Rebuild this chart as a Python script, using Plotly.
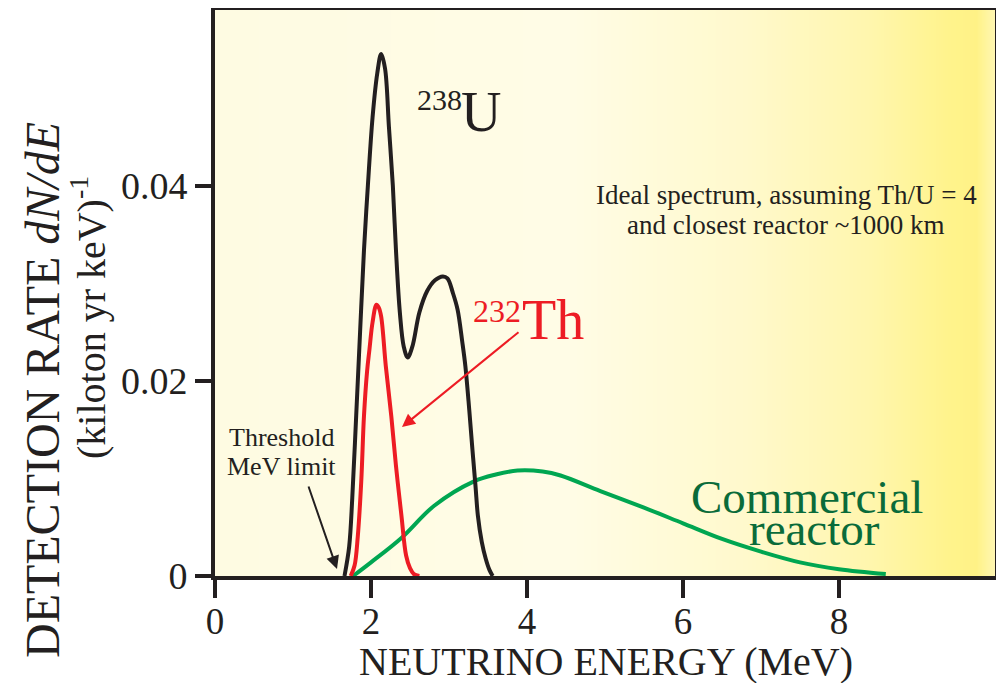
import plotly.graph_objects as go

# ---- data ----
u_energy = [1.66, 1.72, 1.76, 1.81, 1.86, 1.91, 1.96, 2.02, 2.08, 2.13, 2.18, 2.23, 2.28, 2.32,
            2.37, 2.42, 2.47, 2.53, 2.62, 2.72, 2.82, 2.92, 2.98, 3.05, 3.11, 3.17, 3.21, 3.26,
            3.30, 3.34, 3.37, 3.42, 3.47, 3.52, 3.56]
u_rate = [0.0, 0.003, 0.008, 0.0164, 0.025, 0.0334, 0.040, 0.047, 0.0515, 0.0535, 0.052, 0.046,
          0.040, 0.0334, 0.027, 0.0235, 0.0224, 0.0235, 0.027, 0.0292, 0.0303, 0.0307, 0.0305,
          0.029, 0.0273, 0.024, 0.0215, 0.017, 0.013, 0.0092, 0.0062, 0.0035, 0.0018, 0.0006, 0.0]

th_energy = [1.74, 1.79, 1.83, 1.875, 1.91, 1.95, 1.98, 2.02, 2.07, 2.10, 2.13, 2.19, 2.26, 2.32,
             2.39, 2.45, 2.50, 2.55, 2.62]
th_rate = [0.0, 0.0011, 0.004, 0.0097, 0.0164, 0.021, 0.0232, 0.026, 0.0278, 0.0275, 0.0266,
           0.0215, 0.0164, 0.0113, 0.0062, 0.0021, 0.0008, 0.0002, 0.0]

reactor_energy = [1.77, 2.0, 2.39, 2.81, 3.32, 3.6, 3.88, 4.2, 4.43, 4.94, 5.5, 6.0, 6.5, 7.0,
                  7.5, 8.0, 8.6]
reactor_rate = [0.0, 0.0014, 0.0039, 0.0072, 0.0097, 0.0104, 0.0108, 0.0107, 0.0103, 0.0087,
                0.0070, 0.0054, 0.0038, 0.0025, 0.0014, 0.0007, 0.0002]

x_ticks = [0, 2, 4, 6, 8]
y_ticks = [0, 0.02, 0.04]
y_tick_labels = ["0", "0.02", "0.04"]

# background gradient stops (position along energy axis, colour)
bg_stops = [(0.0, "#fefbe2"), (0.45, "#fffce6"), (0.68, "#fff9cc"), (0.84, "#fff6ad"),
            (0.94, "#fff38c"), (0.975, "#fff286"), (1.0, "#fff7b4")]

INK = "#231f20"
RED = "#ed1c24"
DKGREEN = "#0a6b3a"
FONT = "Liberation Serif"

# page geometry (the page body adds an 8px offset to the figure)
OFF = 8
PL, PR, PT, PB = 215, 995, 10, 576
FIG_W, FIG_H = 1004 - OFF, 683 - OFF


def px(xp):
    return (xp - PL) / (PR - PL)


def py(yp):
    return (PB - yp) / (PB - PT)


fig = go.Figure()

bg_x = [i * 0.25 for i in range(41)]
fig.add_trace(go.Heatmap(
    x=bg_x, y=[-0.01, 0.07], z=[[v / 10 for v in bg_x], [v / 10 for v in bg_x]],
    colorscale=[[p, c] for p, c in bg_stops], zmin=0, zmax=1, zsmooth="best",
    showscale=False, hoverinfo="skip"))

fig.add_trace(go.Scatter(x=reactor_energy, y=reactor_rate, mode="lines",
                         line=dict(color="#00a651", width=4, shape="spline"),
                         name="Commercial reactor"))
fig.add_trace(go.Scatter(x=u_energy, y=u_rate, mode="lines",
                         line=dict(color=INK, width=4, shape="spline"), name="238U"))
fig.add_trace(go.Scatter(x=th_energy, y=th_rate, mode="lines",
                         line=dict(color=RED, width=4, shape="spline"), name="232Th"))

ann = []


def label(text, xp, yp, size, color=INK, angle=0):
    ann.append(dict(text=text, x=px(xp), y=py(yp), xref="paper", yref="paper",
                    xanchor="center", yanchor="middle", showarrow=False, textangle=angle,
                    font=dict(family=FONT, size=size, color=color)))


def arrow(head, tail, color):
    ann.append(dict(text="", x=px(head[0]), y=py(head[1]), xref="paper", yref="paper",
                    ax=tail[0] - head[0], ay=tail[1] - head[1], showarrow=True,
                    arrowhead=2, arrowsize=1.3, arrowwidth=2, arrowcolor=color))


label("238", 439, 99, 30)
label("U", 481, 112, 56)
label("232", 497, 311, 32, RED)
label("Th", 553, 320, 56, RED)
arrow((402, 427), (520, 331), RED)
label("Threshold", 281, 437, 26)
label("MeV limit", 281, 466, 26)
arrow((337, 569), (308, 485), INK)
label("Ideal spectrum, assuming Th/U = 4", 786, 195, 27)
label("and closest reactor ~1000 km", 786, 225, 27)
label("Commercial", 807, 497, 47, DKGREEN)
label("reactor", 814, 529, 47, DKGREEN)
label("DETECTION RATE <i>dN/dE</i>", 42, 390, 48, angle=-90)
label("(kiloton yr keV)<sup>-1</sup>", 88, 318, 40, angle=-90)
label("NEUTRINO ENERGY (MeV)", 606, 661, 40)

fig.update_layout(
    width=FIG_W, height=FIG_H,
    margin=dict(l=PL - OFF, r=FIG_W - (PR - OFF), t=PT - OFF, b=FIG_H - (PB - OFF),
                autoexpand=False),
    paper_bgcolor="white", plot_bgcolor="white",
    showlegend=False,
    annotations=ann,
    xaxis=dict(range=[0, 10], tickvals=x_ticks, ticks="outside", ticklen=18, tickwidth=4,
               tickcolor=INK, showline=True, linewidth=4, linecolor=INK, mirror=True,
               showgrid=False, zeroline=False, ticklabelstandoff=-8,
               tickfont=dict(family=FONT, size=37, color=INK)),
    yaxis=dict(range=[0, 0.058], tickvals=y_ticks, ticktext=y_tick_labels, ticks="outside",
               ticklen=16, tickwidth=4, tickcolor=INK, showline=True, linewidth=4,
               linecolor=INK, mirror=True, showgrid=False, zeroline=False,
               tickfont=dict(family=FONT, size=38, color=INK)),
)

fig.write_html("out.html")
